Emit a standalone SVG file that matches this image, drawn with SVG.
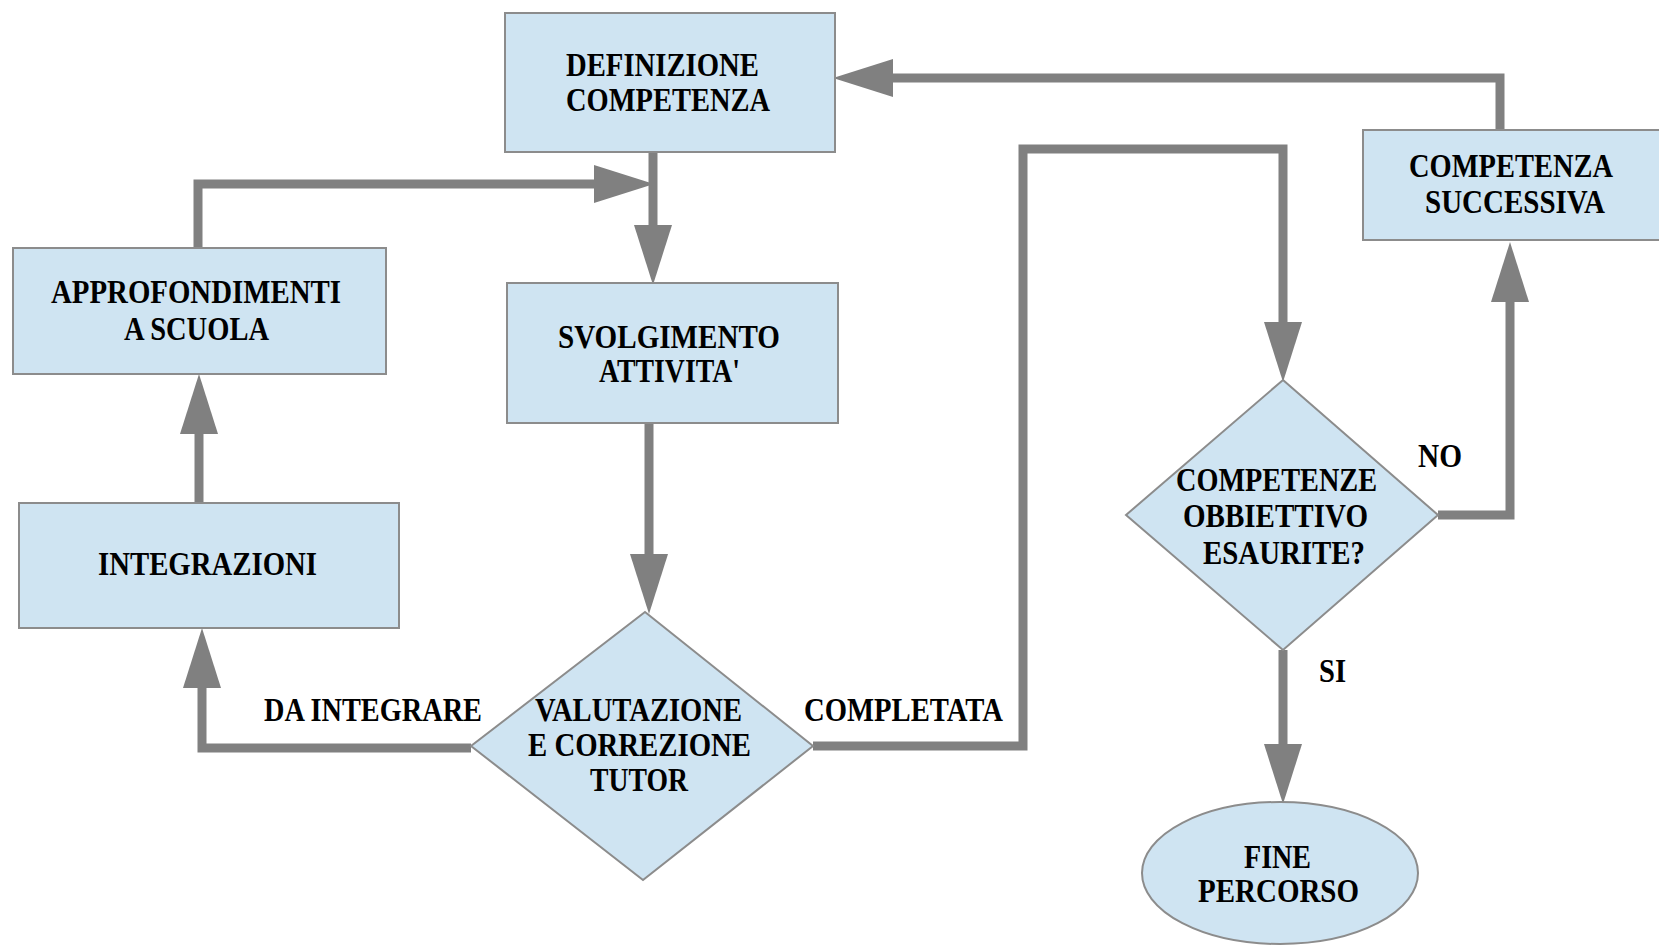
<svg xmlns="http://www.w3.org/2000/svg" width="1659" height="946" viewBox="0 0 1659 946">
<style>
.box{fill:#cfe4f2;stroke:#8c8c8c;stroke-width:2}
.t{font-family:"Liberation Serif","Times New Roman",serif;font-weight:bold;font-size:33px;fill:#000}
.c{fill:none;stroke:#808080;stroke-width:9;stroke-linejoin:miter}
</style>
<defs>
<marker id="ah" markerUnits="userSpaceOnUse" markerWidth="60" markerHeight="40" viewBox="0 0 60 40" refX="0" refY="20" orient="auto">
<path d="M0,1 L60,20 L0,39 z" fill="#808080"/>
</marker>
</defs>
<rect width="1659" height="946" fill="#fff"/>
<g id="connectors">
<path class="c" d="M653,152 V225" marker-end="url(#ah)"/>
<path class="c" d="M198,248 V184 H594" marker-end="url(#ah)"/>
<path class="c" d="M199,503 V434" marker-end="url(#ah)"/>
<path class="c" d="M649,423 V554" marker-end="url(#ah)"/>
<path class="c" d="M471,748 H202 V688" marker-end="url(#ah)"/>
<path class="c" d="M813,746 H1023 V149 H1283 V322" marker-end="url(#ah)"/>
<path class="c" d="M1438,515 H1510 V302" marker-end="url(#ah)"/>
<path class="c" d="M1500,130 V78 H893" marker-end="url(#ah)"/>
<path class="c" d="M1283,650 V744" marker-end="url(#ah)"/>
<text class="t" x="264" y="721" textLength="218" lengthAdjust="spacingAndGlyphs">DA INTEGRARE</text>
<text class="t" x="804" y="721" textLength="199" lengthAdjust="spacingAndGlyphs">COMPLETATA</text>
<text class="t" x="1418" y="467" textLength="44" lengthAdjust="spacingAndGlyphs">NO</text>
<text class="t" x="1319" y="682" textLength="27" lengthAdjust="spacingAndGlyphs">SI</text>
</g>
<g id="definizione">
<rect class="box" x="505" y="13" width="330" height="139"/>
<text class="t" x="566" y="76" textLength="193" lengthAdjust="spacingAndGlyphs">DEFINIZIONE</text>
<text class="t" x="566" y="111" textLength="204" lengthAdjust="spacingAndGlyphs">COMPETENZA</text>
</g>
<g id="approfondimenti">
<rect class="box" x="13" y="248" width="373" height="126"/>
<text class="t" x="51" y="303" textLength="290" lengthAdjust="spacingAndGlyphs">APPROFONDIMENTI</text>
<text class="t" x="124" y="340" textLength="145" lengthAdjust="spacingAndGlyphs">A SCUOLA</text>
</g>
<g id="svolgimento">
<rect class="box" x="507" y="283" width="331" height="140"/>
<text class="t" x="558" y="348" textLength="222" lengthAdjust="spacingAndGlyphs">SVOLGIMENTO</text>
<text class="t" x="599" y="382" textLength="141" lengthAdjust="spacingAndGlyphs">ATTIVITA'</text>
</g>
<g id="integrazioni">
<rect class="box" x="19" y="503" width="380" height="125"/>
<text class="t" x="98" y="575" textLength="219" lengthAdjust="spacingAndGlyphs">INTEGRAZIONI</text>
</g>
<g id="valutazione">
<polygon class="box" points="645,612 813,746 643,880 471,746"/>
<text class="t" x="535" y="721" textLength="207" lengthAdjust="spacingAndGlyphs">VALUTAZIONE</text>
<text class="t" x="528" y="756" textLength="223" lengthAdjust="spacingAndGlyphs">E CORREZIONE</text>
<text class="t" x="590" y="791" textLength="98" lengthAdjust="spacingAndGlyphs">TUTOR</text>
</g>
<g id="competenza-successiva">
<rect class="box" x="1363" y="130" width="310" height="110"/>
<text class="t" x="1409" y="177" textLength="204" lengthAdjust="spacingAndGlyphs">COMPETENZA</text>
<text class="t" x="1425" y="213" textLength="180" lengthAdjust="spacingAndGlyphs">SUCCESSIVA</text>
</g>
<g id="competenze-esaurite">
<polygon class="box" points="1283,380 1438,515 1283,650 1126,515"/>
<text class="t" x="1176" y="491" textLength="201" lengthAdjust="spacingAndGlyphs">COMPETENZE</text>
<text class="t" x="1183" y="527" textLength="185" lengthAdjust="spacingAndGlyphs">OBBIETTIVO</text>
<text class="t" x="1203" y="564" textLength="162" lengthAdjust="spacingAndGlyphs">ESAURITE?</text>
</g>
<g id="fine-percorso">
<ellipse class="box" cx="1280" cy="873" rx="138" ry="71"/>
<text class="t" x="1244" y="868" textLength="67" lengthAdjust="spacingAndGlyphs">FINE</text>
<text class="t" x="1198" y="902" textLength="161" lengthAdjust="spacingAndGlyphs">PERCORSO</text>
</g>
</svg>
